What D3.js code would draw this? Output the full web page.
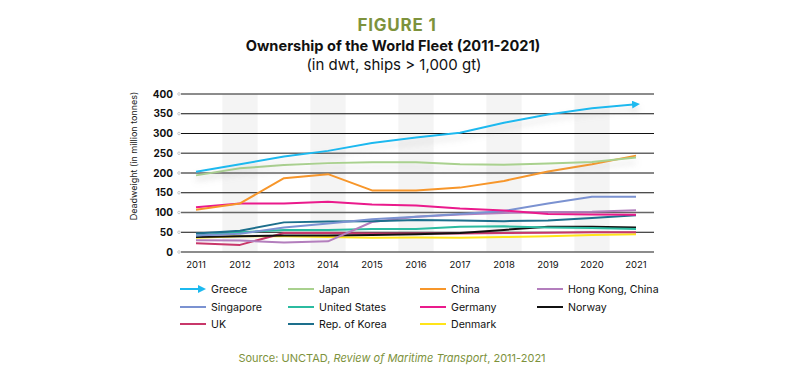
<!DOCTYPE html>
<html>
<head>
<meta charset="utf-8">
<script src="https://cdn.jsdelivr.net/npm/d3@7"></script>
<style>
  body { margin: 0; background: #fff; }
  svg { font-family: Inter, "Open Sans", sans-serif; }
</style>
</head>
<body>
<div id="chart"></div>
<script>
const YEARS = [2011, 2012, 2013, 2014, 2015, 2016, 2017, 2018, 2019, 2020, 2021];
const Y_TICKS = [0, 50, 100, 150, 200, 250, 300, 350, 400];

const GREECE = [203, 222, 242, 256, 276, 290, 302, 327, 348, 364, 374];
const JAPAN = [194, 212, 220, 225, 227, 227, 222, 221, 224, 228, 239];
const CHINA = [107, 123, 187, 197, 156, 156, 163, 180, 204, 222, 244];
const HONG_KONG = [30, 29, 24, 27, 76, 89, 95, 99, 101, 102, 106];
const SINGAPORE = [42, 46, 62, 72, 83, 89, 96, 104, 123, 140, 140];
const UNITED_STATES = [42, 50, 56, 56, 58, 58, 64, 65, 62, 61, 58];
const GERMANY = [113, 123, 123, 127, 120, 118, 110, 105, 96, 95, 94];
const NORWAY = [38, 40, 42, 42, 43, 45, 48, 56, 64, 64, 62];
const UK = [22, 18, 48, 48, 47, 47, 47, 48, 49, 50, 50];
const KOREA = [47, 54, 75, 77, 78, 81, 80, 78, 80, 86, 93];
const DENMARK = [36, 40, 40, 38, 36, 37, 36, 38, 40, 43, 45];

const SERIES = [
  { name: "Greece", values: GREECE, color: "#1cb9ef" },
  { name: "Japan", values: JAPAN, color: "#a9d18e" },
  { name: "China", values: CHINA, color: "#f7962a" },
  { name: "Hong Kong, China", values: HONG_KONG, color: "#b37ebd" },
  { name: "Singapore", values: SINGAPORE, color: "#7b92d1" },
  { name: "United States", values: UNITED_STATES, color: "#2bbba0" },
  { name: "Germany", values: GERMANY, color: "#ea1a8c" },
  { name: "Norway", values: NORWAY, color: "#111111" },
  { name: "UK", values: UK, color: "#c8376a" },
  { name: "Rep. of Korea", values: KOREA, color: "#1d6f8c" },
  { name: "Denmark", values: DENMARK, color: "#ffe419" },
];
// drawing order (bottom first)
const DRAW_ORDER = ["Denmark", "UK", "Norway", "United States", "Hong Kong, China", "Rep. of Korea",
  "Singapore", "Germany", "China", "Japan", "Greece"];
// legend layout: rows of 4
const LEGEND_ORDER = [
  ["Greece", "Japan", "China", "Hong Kong, China"],
  ["Singapore", "United States", "Germany", "Norway"],
  ["UK", "Rep. of Korea", "Denmark"],
];

const WIDTH = 799;
const HEIGHT = 386;
const olive = "#7d923c";

const svg = d3.select("#chart").append("svg")
  .attr("width", WIDTH)
  .attr("height", HEIGHT);

const defs = svg.append("defs");
defs.append("marker")
  .attr("id", "arrow")
  .attr("viewBox", "0 0 10 10")
  .attr("refX", 5).attr("refY", 5)
  .attr("markerWidth", 4).attr("markerHeight", 4)
  .attr("orient", "auto")
  .append("path")
  .attr("d", "M0,0 L10,5 L0,10 z")
  .attr("fill", "#1cb9ef");

const shadow = defs.append("filter").attr("id", "shadow")
  .attr("x", "-10%").attr("y", "-50%").attr("width", "120%").attr("height", "300%");
shadow.append("feDropShadow")
  .attr("dx", 0).attr("dy", 5).attr("stdDeviation", 3)
  .attr("flood-color", "#999").attr("flood-opacity", 0.35);

// titles
svg.append("text").attr("x", 397).attr("y", 31).attr("text-anchor", "middle")
  .attr("font-size", 17).attr("font-weight", 700).attr("letter-spacing", 0.8)
  .attr("fill", olive).text("FIGURE 1");
svg.append("text").attr("x", 393).attr("y", 51).attr("text-anchor", "middle")
  .attr("font-size", 14.6).attr("font-weight", 700).attr("fill", "#111")
  .text("Ownership of the World Fleet (2011-2021)");
svg.append("text").attr("x", 394).attr("y", 70).attr("text-anchor", "middle")
  .attr("font-size", 15).attr("fill", "#111").text("(in dwt, ships > 1,000 gt)");

const x = d3.scalePoint().domain(YEARS).range([196, 636]);
const y = d3.scaleLinear().domain([0, 400]).range([252, 94]);
const step = x.step();

// alternating bands on even years
svg.append("g").selectAll("rect")
  .data(YEARS.filter(d => d % 2 === 0))
  .join("rect")
  .attr("x", d => x(d) - step * 0.4)
  .attr("width", step * 0.8)
  .attr("y", y(400))
  .attr("height", y(0) - y(400))
  .attr("fill", "#f4f4f4");

// grid lines
const grid = svg.append("g");
grid.selectAll("line")
  .data(Y_TICKS)
  .join("line")
  .attr("x1", 181).attr("x2", 654)
  .attr("y1", d => y(d)).attr("y2", d => y(d))
  .attr("stroke", d => d % 150 === 100 || d === 0 ? "#666" : "#111")
  .attr("stroke-width", d => d % 150 === 100 || d === 0 ? 1.6 : 1);
grid.selectAll("circle")
  .data(Y_TICKS)
  .join("circle")
  .attr("cx", 179).attr("cy", d => y(d)).attr("r", 1.3)
  .attr("fill", "#fff").attr("stroke", "#aaa").attr("stroke-width", 0.6);

// y axis labels
svg.append("g").selectAll("text")
  .data(Y_TICKS)
  .join("text")
  .attr("x", 173).attr("y", d => y(d)).attr("dy", "0.35em")
  .attr("text-anchor", "end")
  .attr("font-size", 10).attr("font-weight", 700).attr("fill", "#111")
  .text(d => d);

svg.append("text")
  .attr("transform", `translate(137, 156) rotate(-90)`)
  .attr("text-anchor", "middle")
  .attr("font-size", 9).attr("fill", "#222")
  .text("Deadweight (in million tonnes)");

// x axis labels
svg.append("g").selectAll("text")
  .data(YEARS)
  .join("text")
  .attr("x", d => x(d)).attr("y", 268)
  .attr("text-anchor", "middle")
  .attr("font-size", 9.5).attr("fill", "#111")
  .text(d => d);

// lines
const line = d3.line()
  .x((d, i) => x(YEARS[i]))
  .y(d => y(d));

const byName = new Map(SERIES.map(s => [s.name, s]));
svg.append("g").selectAll("path")
  .data(DRAW_ORDER.map(n => byName.get(n)))
  .join("path")
  .attr("d", d => line(d.values))
  .attr("fill", "none")
  .attr("stroke", d => d.color)
  .attr("stroke-width", 2)
  .attr("stroke-linejoin", "round")
  .attr("filter", d => d.name === "Greece" || d.name === "Japan" ? "url(#shadow)" : null)
  .attr("marker-end", d => d.name === "Greece" ? "url(#arrow)" : null);

// legend
const COL_X = [180, 288, 420, 537];
const ROW_Y = [289, 307, 324];
const legend = svg.append("g");
LEGEND_ORDER.forEach((row, r) => {
  row.forEach((name, c) => {
    const s = byName.get(name);
    const g = legend.append("g").attr("transform", `translate(${COL_X[c]}, ${ROW_Y[r]})`);
    g.append("line")
      .attr("x1", 0).attr("x2", name === "Greece" ? 22 : 26)
      .attr("stroke", s.color).attr("stroke-width", 2)
      .attr("marker-end", name === "Greece" ? "url(#arrow)" : null);
    g.append("text")
      .attr("x", 31).attr("dy", "0.35em")
      .attr("font-size", 10.6).attr("fill", "#111")
      .text(name);
  });
});

// source
const src = svg.append("text").attr("x", 392).attr("y", 362)
  .attr("text-anchor", "middle").attr("font-size", 11).attr("fill", olive);
src.append("tspan").text("Source: UNCTAD, ");
src.append("tspan").attr("font-style", "italic").text("Review of Maritime Transport");
src.append("tspan").text(", 2011-2021");
</script>
</body>
</html>
